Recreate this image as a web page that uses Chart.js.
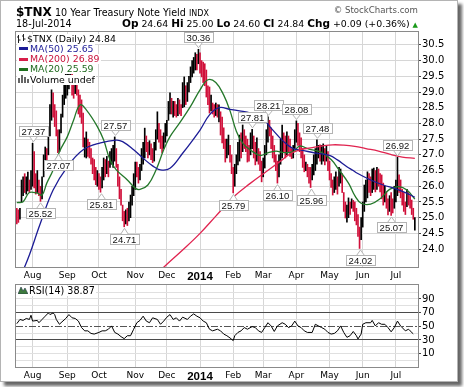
<!DOCTYPE html>
<html><head><meta charset="utf-8">
<script src="https://cdn.jsdelivr.net/npm/chart.js@4.4.1/dist/chart.umd.min.js"></script>
<style>
body{margin:0;background:#fff;width:464px;height:387px;overflow:hidden;position:relative;font-family:'DejaVu Sans',sans-serif;color:#000}
#frame{position:absolute;left:0;top:0;width:456px;height:380px;border:1px solid #b4b4b4;box-shadow:4px 4px 3px rgba(0,0,0,0.6);background:#fff}
.abs{position:absolute;white-space:nowrap}
canvas{position:absolute;left:0}
.lg{position:absolute;left:17px;font-size:9.4px;line-height:10px;height:10px;background:#fff;padding-right:1px;white-space:nowrap}
.sw{display:inline-block;width:9px;height:3px;vertical-align:middle;margin:0 2px 1px 2px}
</style></head><body>
<div id="frame"></div>
<canvas id="main" width="464" height="285" style="top:0;width:464px;height:285px"></canvas>
<canvas id="rsi" width="464" height="107" style="top:278px;width:464px;height:107px"></canvas>

<div class="abs" style="left:16px;top:1px"><b style="font-size:12px">$TNX</b><span style="font-size:9.6px"> 10 Year Treasury Note Yield </span><span style="font-size:8px">INDX</span></div>
<div class="abs" style="right:46px;top:5px;font-size:8.6px;color:#555">© StockCharts.com</div>
<div class="abs" style="left:16px;top:18px;font-size:9.6px">18-Jul-2014</div>
<div class="abs" style="right:46px;top:17px;font-size:9.4px"><b style="font-size:10.5px">Op</b> 24.64 <b style="font-size:10.5px">Hi</b> 25.00 <b style="font-size:10.5px">Lo</b> 24.60 <b style="font-size:10.5px">Cl</b> 24.84 <b style="font-size:10.5px">Chg</b> +0.09 (+0.36%) <span style="color:#1a9a1a;font-size:7px">&#9650;</span></div>

<div class="lg" style="top:34px"><svg width="9" height="9" style="vertical-align:-1px;margin:0 1px 0 0"><path d="M1.5 1v8M0 3h1.5M1.5 6h2M6.5 0v7M5 2h1.5M6.5 5h2" stroke="#222" stroke-width="1" fill="none"/></svg>$TNX (Daily) 24.84</div>
<div class="lg" style="top:43.5px"><span class="sw" style="background:#1c1c96"></span><span style="color:#1c1c96">MA(50) 25.65</span></div>
<div class="lg" style="top:54px"><span class="sw" style="background:#d81e4a"></span><span style="color:#c8103a">MA(200) 26.89</span></div>
<div class="lg" style="top:64.3px"><span class="sw" style="background:#1e701e"></span><span style="color:#1e6a1e">MA(20) 25.59</span></div>
<div class="lg" style="top:74.5px"><svg width="11" height="8" style="vertical-align:0px;margin:0 1px 0 1px"><path d="M0 8V3h2v5zM3 8V0h2v8zM6 8V2h2v6zM9 8V4h2v4z" fill="#666"/></svg>Volume undef</div>
<div class="lg" style="top:286px;font-size:9.6px"><svg width="10" height="8" style="vertical-align:0px;margin:0 1px 0 1px"><path d="M0 8L3 1L5 5L7 2L10 8z" fill="#3c7a3c" stroke="#234" stroke-width="0.6"/></svg>RSI(14) 38.87</div>

<script>
// ---------- DATA ----------
const monthIdx = [10, 32, 52, 75, 95, 116, 137, 156, 177, 198, 219, 240];
const monthLbl = ['Aug','Sep','Oct','Nov','Dec','2014','Feb','Mar','Apr','May','Jun','Jul'];
const yTicks = [24.0,24.5,25.0,25.5,26.0,26.5,27.0,27.5,28.0,28.5,29.0,29.5,30.0,30.5];
const rsiTicks = [0,10,20,30,40,50,60,70,80,90,100];
const rsiLabeled = [10,30,50,70,90];

const lo = [
24.80,24.85,24.95,25.50,25.70,25.80,25.75,25.85,25.80,25.90,
26.00,25.95,25.75,25.80,25.70,25.52,25.60,26.30,26.80,26.70,
27.00,27.60,28.10,28.20,27.90,27.60,27.07,27.10,27.70,28.20,
28.60,28.80,28.90,29.10,29.40,28.90,28.80,28.95,28.90,28.30,
28.20,28.00,27.25,26.93,26.90,26.95,26.90,26.70,26.40,26.20,
26.05,26.00,25.90,25.81,25.95,26.20,26.30,26.40,26.30,26.60,
26.70,26.60,26.80,26.60,26.00,25.60,25.40,24.90,24.71,24.80,
24.75,24.90,25.00,25.40,25.70,25.90,26.30,26.10,26.20,26.50,
26.70,26.90,27.10,26.90,27.00,26.85,26.75,26.80,27.15,27.50,
27.40,27.20,27.06,27.20,27.40,27.60,28.10,28.30,28.30,28.20,
28.25,28.20,28.25,28.30,28.25,28.50,28.53,28.60,28.70,29.00,
29.30,29.48,29.60,29.70,29.70,29.90,29.60,29.48,29.30,29.20,
28.84,28.60,28.33,28.40,28.30,28.20,28.25,28.20,28.05,27.63,
27.38,27.20,26.77,26.90,27.00,26.77,26.40,25.79,26.00,26.40,
26.68,26.80,26.90,27.10,27.20,27.10,26.77,26.80,27.00,27.20,
26.90,26.68,26.80,26.70,26.50,26.14,26.30,26.58,27.00,27.40,
27.60,27.20,26.90,26.77,26.50,26.10,26.30,26.70,26.90,27.10,
26.90,27.00,27.10,26.95,26.88,26.90,27.20,27.40,27.30,27.10,
26.90,26.60,26.46,26.50,26.30,26.10,25.96,26.20,26.36,26.50,
26.70,26.90,26.80,26.70,26.80,26.68,26.80,26.50,26.20,25.96,
25.72,25.80,25.90,25.75,26.00,26.10,25.80,25.20,24.99,24.86,
25.00,25.10,25.30,25.20,24.90,24.77,24.40,24.02,24.30,24.70,
25.20,25.50,25.63,25.80,25.70,25.80,25.90,25.82,25.90,26.00,
25.82,25.60,25.40,25.50,25.30,25.09,25.20,25.07,25.15,25.30,
25.50,25.70,25.80,25.63,25.40,25.20,25.10,25.35,25.40,25.30,
25.10,24.95,24.60];
const hi = [
25.30,25.25,25.30,26.20,26.30,26.40,26.30,26.45,26.20,26.50,
27.37,27.10,26.40,26.50,26.20,26.00,26.30,27.00,27.25,27.20,
27.90,28.60,29.07,28.97,28.60,28.40,27.80,27.80,28.30,28.90,
29.40,29.60,29.80,29.90,30.00,29.95,29.40,29.25,29.30,29.07,
28.90,28.75,28.33,27.54,27.73,27.50,27.40,27.20,26.90,26.85,
26.60,26.50,26.40,26.30,26.60,26.90,26.85,26.95,26.80,27.10,
27.20,27.30,27.57,27.20,26.70,26.30,25.90,25.40,25.20,25.25,
25.30,25.50,25.72,26.00,26.40,26.77,26.77,26.60,26.70,27.20,
27.40,27.85,27.60,27.40,27.45,27.35,27.20,27.40,27.80,28.37,
28.00,27.80,27.60,27.70,28.00,28.10,28.70,28.97,28.80,28.70,
28.70,28.60,28.80,28.75,28.60,29.30,29.48,29.20,29.30,29.50,
29.80,30.00,30.10,30.25,30.20,30.36,30.25,30.00,29.95,29.90,
29.70,29.20,29.16,28.90,28.65,28.60,28.65,28.60,28.59,28.37,
28.20,27.86,27.50,27.50,27.63,27.30,27.00,26.60,26.70,27.00,
27.40,27.63,27.70,27.95,27.80,27.60,27.50,27.30,27.70,27.81,
27.60,27.40,27.54,27.20,27.10,26.80,26.90,27.30,27.80,28.21,
28.10,27.86,27.60,27.30,27.00,26.80,27.00,27.50,27.95,27.70,
27.60,27.73,27.60,27.50,27.20,27.30,27.80,28.08,28.00,27.70,
27.54,27.20,27.00,26.77,26.70,26.60,26.60,26.70,27.00,27.20,
27.48,27.30,27.32,27.30,27.35,27.20,27.30,27.10,26.80,26.40,
26.20,26.30,26.46,26.30,26.60,26.55,26.40,25.80,25.50,25.40,
25.63,25.50,25.60,25.55,25.50,25.30,25.10,24.70,25.00,25.50,
26.04,26.20,26.46,26.40,26.30,26.55,26.58,26.50,26.60,26.55,
26.40,26.36,26.10,26.00,25.82,25.60,25.70,25.80,25.60,26.00,
26.20,26.92,26.36,26.20,25.90,25.80,25.50,25.90,25.80,25.70,
25.56,25.30,25.00];
const up = [
0,0,1,1,1,0,1,1,0,1, 1,0,0,1,0,0,1,1,1,0, 1,1,1,0,0,0,0,1,1,1, 1,1,1,1,1,0,0,1,0,0,
0,0,0,1,1,0,0,0,0,0, 0,1,0,0,1,1,0,1,0,1, 1,1,1,0,0,0,0,0,0,1, 0,1,1,1,1,1,0,0,1,1,
1,1,0,0,1,0,0,1,1,1, 0,0,0,1,1,1,1,1,0,1, 0,0,1,0,0,1,1,0,1,1, 1,1,1,1,0,1,0,0,0,0,
0,0,0,1,0,0,1,0,1,0, 0,0,0,1,1,0,0,0,1,1, 1,1,0,1,0,0,0,0,1,1, 0,0,1,0,0,0,1,1,1,1,
0,0,0,0,0,0,1,1,1,0, 0,1,0,0,0,1,1,1,0,0, 0,0,0,1,0,0,0,1,1,1, 1,1,0,1,1,0,1,0,0,0,
0,1,1,0,1,1,0,0,0,1, 1,0,1,0,0,0,0,0,1,1, 1,1,1,0,0,1,1,0,1,0, 0,0,0,1,0,0,1,0,0,1,
1,1,0,0,0,0,0,1,0,0, 0,0,1];

const ma50Idx = [0,5,15,23,32,42,53,63,67,74,80,86,91,97,105,116,122,128,135,141,148,155,161,169,175,181,190,198,203,209,213,215,224,232,240,246,252];
const ma50Val = [23.10,23.44,24.83,25.88,26.62,27.16,27.38,27.47,27.42,27.16,26.89,26.65,26.52,26.57,27.05,27.79,28.27,28.50,28.45,28.40,28.33,28.20,27.85,27.42,27.20,27.14,27.05,26.98,26.84,26.62,26.50,26.43,26.20,26.04,25.92,25.80,25.65];
const ma200Idx = [88,93,105,116,126,137,148,158,168,172,179,186,193,200,207,214,221,229,236,244,252];
const ma200Val = [23.15,23.42,23.97,24.50,25.05,25.65,26.10,26.47,26.84,27.00,27.16,27.22,27.28,27.32,27.31,27.27,27.20,27.12,27.02,26.93,26.89];
const ma20Idx = [0,4,8,13,16,19,23,27,32,36,40,44,51,55,59,63,70,75,78,83,88,93,97,103,110,116,121,126,131,135,139,143,148,154,158,164,169,175,179,185,192,199,204,210,214,218,224,230,236,242,247,252];
const ma20Val = [25.48,25.51,25.80,25.78,25.72,26.10,26.52,27.10,27.58,28.11,28.59,28.43,27.90,27.47,26.84,26.52,26.20,25.94,25.90,26.04,26.50,27.16,27.58,28.01,28.54,29.07,29.39,29.30,28.90,28.40,27.75,27.37,27.15,26.98,27.05,27.12,27.07,27.10,27.28,27.18,27.10,26.85,26.52,26.10,25.70,25.46,25.43,25.60,25.90,25.99,25.88,25.59];

const rsiIdx = [0,2,4,6,8,9,10,13,14,16,18,20,21,23,24,25,27,28,31,33,35,37,39,41,43,45,47,49,52,54,56,58,60,62,64,66,68,70,72,74,76,78,80,82,84,86,89,91,93,95,97,99,101,103,105,108,110,112,114,116,118,120,122,124,127,129,131,133,135,137,138,140,142,144,146,149,151,153,155,157,159,161,163,165,168,170,172,174,176,178,180,182,184,187,189,191,193,195,197,199,201,203,205,207,209,211,213,215,216,218,219,221,224,225,227,229,231,233,235,237,239,241,243,246,248,249,251];
const rsiVal = [53.8,60,58.6,61.4,60,66.2,57.6,58.6,55.2,60,64.8,69.5,67.1,69.5,67.1,60,52.9,55.2,61.4,67.1,62.4,61.4,57.6,48.1,43.3,43.3,39.5,38.6,41,43.3,43.3,45.7,50.5,41,38.6,34.8,31.9,36.2,36.2,45.7,55.2,58.6,64.8,57.6,55.2,62.4,60,52.9,57.6,63.3,67.1,60,62.4,57.6,63.3,60,64.8,68.1,64.8,62.4,57.6,55.2,45.7,43.3,45.7,43.3,38.6,36.2,32.9,29,36.2,41,43.3,48.1,45.7,49.5,48.1,43.3,41,48.1,55.2,50.5,42.4,50.5,55.2,52.9,48.1,50.5,57.6,50.5,48.1,43.3,41,41,52.9,50.5,48.1,45.7,41,38.6,39.5,43.3,50.5,41,33.8,36.2,42.4,36.2,31.4,38.6,52.9,55.2,55.2,58.6,50.5,55.2,52.9,52.9,48.1,41.9,48.1,57.6,50.5,43.3,45.7,43.3,38.9];

const labelIdx = [10,15,26,53,62,68,115,137,149,159,165,177,186,190,217,237,241];
const labelVal = [27.37,25.52,27.07,25.81,27.57,24.71,30.36,25.79,27.81,28.21,26.10,28.08,25.96,27.48,24.02,25.07,26.92];
const labelSide = ['h','l','l','l','h','l','h','l','h','h','l','h','l','h','l','l','h'];

// ---------- CHARTS ----------
Chart.defaults.font.family = "'DejaVu Sans', sans-serif";
Chart.defaults.color = '#000';
const RED = '#d0103a';

function xScale(){
  return {
    type:'linear', min:-0.5, max:254, offset:false,
    afterBuildTicks: s => { s.ticks = monthIdx.map(v => ({value:v})); },
    ticks:{ autoSkip:false, maxRotation:0, minRotation:0, padding:3, color:'#000',
      callback: v => monthLbl[monthIdx.indexOf(v)],
      font: c => (c.tick && c.tick.value === 116) ? {family:"'Liberation Sans'", size:11.5, weight:'bold'} : {family:"'DejaVu Sans'", size:9}
    },
    grid:{ color:'#d6d6d6', drawTicks:false, offset:false },
    border:{ display:false },
    afterFit: s => { s.height = 18; }
  };
}

const framePlugin = {
  id:'frameBox',
  afterDraw(chart){
    const a = chart.chartArea, ctx = chart.ctx;
    ctx.save(); ctx.strokeStyle = '#8a8a8a'; ctx.lineWidth = 1;
    ctx.strokeRect(Math.round(a.left)-0.5, Math.round(a.top)-0.5, Math.round(a.right-a.left)+1, Math.round(a.bottom-a.top)+1);
    ctx.restore();
  }
};

const hiloPlugin = {
  id:'hilo',
  afterDatasetsDraw(chart){
    const ctx = chart.ctx, x = chart.scales.x, y = chart.scales.y;
    ctx.save();
    ctx.font = "9.5px 'Liberation Sans'";
    ctx.textAlign = 'center'; ctx.textBaseline = 'middle';
    labelIdx.forEach((idx,k) => {
      const px = Math.round(x.getPixelForValue(idx)) + 0.5;
      const py = y.getPixelForValue(labelVal[k]);
      const txt = labelVal[k].toFixed(2);
      const w = Math.ceil(ctx.measureText(txt).width) + 5, h = 10;
      const above = labelSide[k] === 'h';
      const cy = above ? py - 12 : py + 12;
      const bx = Math.round(px - w/2) + 0.5, by = Math.round(cy - h/2) + 0.5;
      ctx.fillStyle = '#fff'; ctx.strokeStyle = '#b4b4b4'; ctx.lineWidth = 1;
      ctx.beginPath();
      if (above) { ctx.moveTo(px-4, by+h); ctx.lineTo(px, py-1.5); ctx.lineTo(px+4, by+h); }
      else { ctx.moveTo(px-4, by); ctx.lineTo(px, py+1.5); ctx.lineTo(px+4, by); }
      ctx.fill(); ctx.stroke();
      ctx.fillRect(bx, by, w, h); ctx.strokeRect(bx, by, w, h);
      ctx.fillStyle = '#111';
      ctx.fillText(txt, px, by + h/2 + 0.5);
    });
    ctx.restore();
  }
};

const pts = (ix, vs) => ix.map((v,i) => ({x:v, y:vs[i]}));

new Chart(document.getElementById('main'), {
  type:'bar',
  data:{ datasets:[
    {type:'line', data:pts(ma200Idx, ma200Val), borderColor:'#e0234f', borderWidth:1.3, pointRadius:0, tension:0.4, order:1},
    {type:'line', data:pts(ma50Idx, ma50Val), borderColor:'#1c1c96', borderWidth:1.3, pointRadius:0, tension:0.4, order:1},
    {type:'line', data:pts(ma20Idx, ma20Val), borderColor:'#24782a', borderWidth:1.3, pointRadius:0, tension:0.4, order:1},
    {type:'bar', data:lo.map((l,i) => ({x:i, y:[l, hi[i]]})), backgroundColor:up.map(u => u ? '#000' : RED), barThickness:1, grouped:false, order:2}
  ]},
  options:{
    responsive:false, animation:false, devicePixelRatio:1,
    layout:{ padding:{ left:16, top:32, right:0, bottom:0 } },
    plugins:{ legend:{display:false}, tooltip:{enabled:false} },
    scales:{
      x: xScale(),
      y: { position:'right', min:23.43, max:30.91,
        afterBuildTicks: s => { s.ticks = yTicks.map(v => ({value:v})); },
        ticks:{ autoSkip:false, callback: v => v.toFixed(1), padding:1, color:'#000', font:{family:"'DejaVu Sans'", size:10} },
        grid:{ color:'#d6d6d6', tickLength:3, tickColor:'#444', drawTicks:true },
        border:{ display:false },
        afterFit: s => { s.width = 46; }
      }
    }
  },
  plugins:[framePlugin, hiloPlugin]
});

const midPlugin = {
  id:'mid50',
  beforeDatasetsDraw(chart){
    const a = chart.chartArea, ctx = chart.ctx, y = Math.round(chart.scales.y.getPixelForValue(50)) + 0.5;
    ctx.save(); ctx.strokeStyle = '#555'; ctx.lineWidth = 1; ctx.setLineDash([7,2,2,2]);
    ctx.beginPath(); ctx.moveTo(a.left, y); ctx.lineTo(a.right, y); ctx.stroke(); ctx.restore();
  }
};

const tv = c => (c && c.tick) ? c.tick.value : null;

new Chart(document.getElementById('rsi'), {
  type:'line',
  data:{ datasets:[
    {data:pts(rsiIdx, rsiVal), borderColor:'#000', borderWidth:1, pointRadius:0, tension:0}
  ]},
  options:{
    responsive:false, animation:false, devicePixelRatio:1,
    layout:{ padding:{ left:16, top:5, right:0, bottom:0 } },
    plugins:{ legend:{display:false}, tooltip:{enabled:false} },
    scales:{
      x: xScale(),
      y: { position:'right', min:-9.6, max:110.4,
        afterBuildTicks: s => { s.ticks = rsiTicks.map(v => ({value:v})); },
        ticks:{ autoSkip:false, callback: v => rsiLabeled.includes(v) ? String(v) : '', padding:1, color:'#000', font:{family:"'DejaVu Sans'", size:10} },
        grid:{ color: c => { const v = tv(c); return (v === 30 || v === 70) ? '#4a4a4a' : (v === 50 ? 'rgba(0,0,0,0)' : '#e0e0e0'); },
               tickLength:3, tickColor: c => rsiLabeled.includes(tv(c)) ? '#444' : 'rgba(0,0,0,0)', drawTicks:true },
        border:{ display:false },
        afterFit: s => { s.width = 46; }
      }
    }
  },
  plugins:[framePlugin, midPlugin]
});
</script>
</body></html>
